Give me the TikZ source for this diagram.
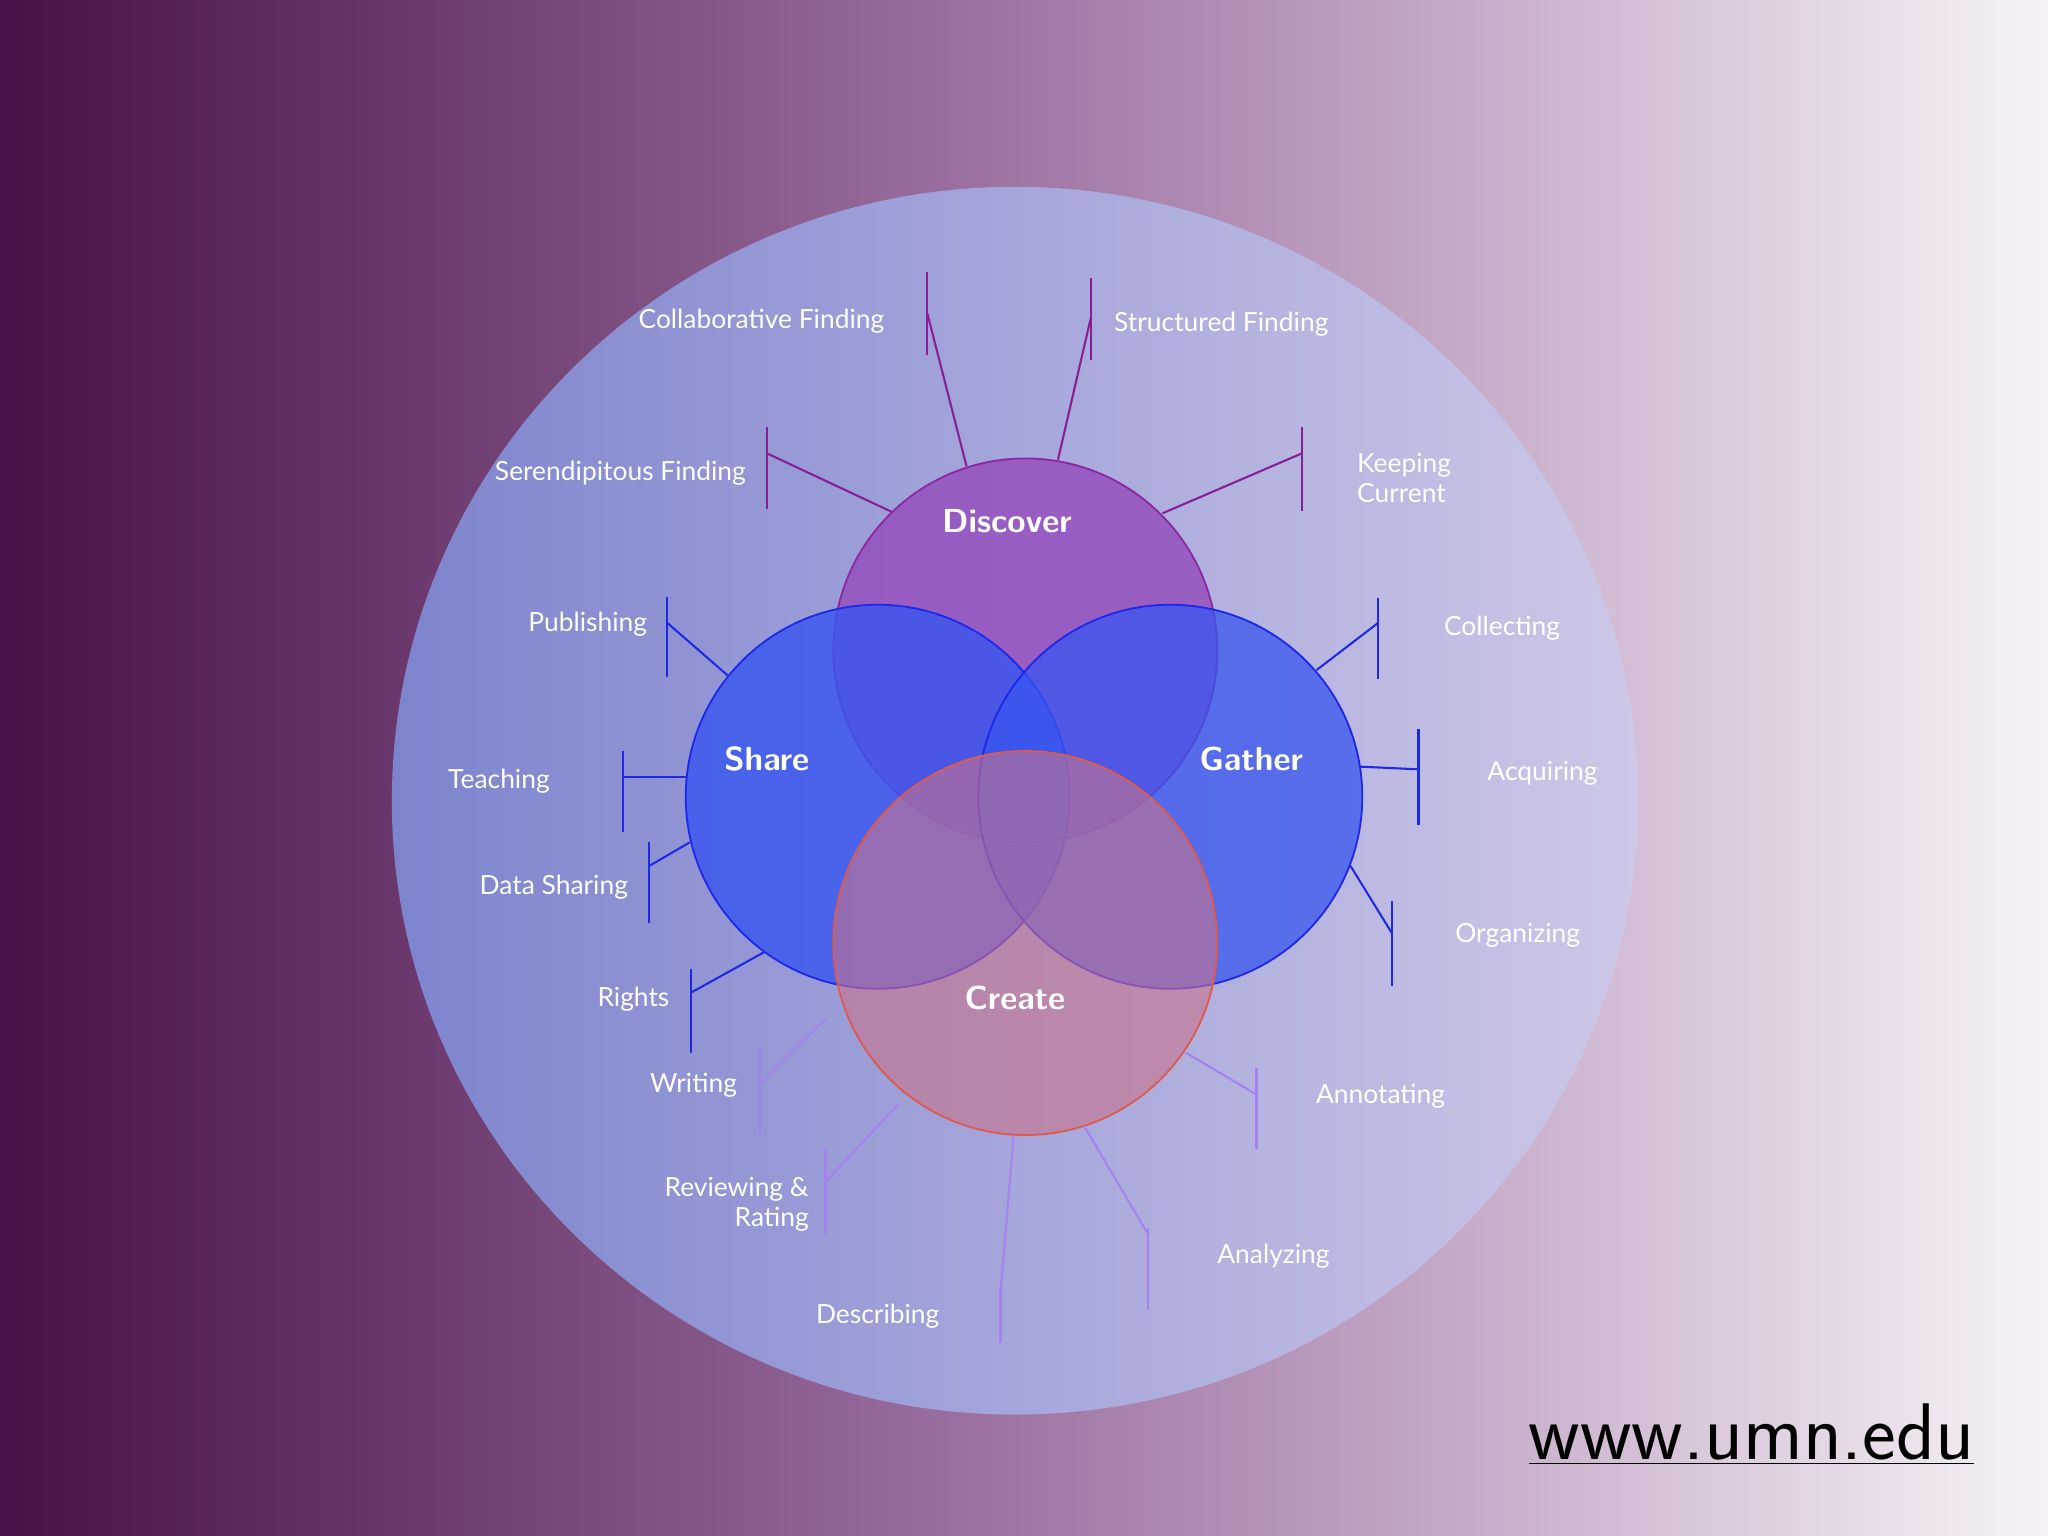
\documentclass[tikz,border=0pt]{standalone}
\usepackage{fontspec}
\setmainfont{Lato}
\usetikzlibrary{calc}
\definecolor{bgL}{RGB}{72,16,72}
\definecolor{bgM}{RGB}{160,118,165}
\definecolor{bgR}{RGB}{247,242,247}
\definecolor{ringL}{RGB}{125,132,205}
\definecolor{ringR}{RGB}{205,200,232}
\definecolor{disc}{RGB}{150,80,190}
\definecolor{discE}{RGB}{140,40,160}
\definecolor{shr}{RGB}{55,85,240}
\definecolor{shrE}{RGB}{30,40,235}
\definecolor{crt}{RGB}{200,115,140}
\definecolor{crtE}{RGB}{220,90,80}
\definecolor{lnP}{RGB}{135,30,150}
\definecolor{lnB}{RGB}{30,40,230}
\definecolor{lnV}{RGB}{165,130,240}
\begin{document}
\begin{tikzpicture}[x=0.02cm,y=-0.02cm,
  lab/.style={text=white,font=\fontsize{11.5}{13}\selectfont,align=left},
  big/.style={text=white,font=\sffamily\bfseries\fontsize{14.5}{16}\selectfont},
  venn/.style={circle,minimum size=294*0.02cm,inner sep=0,line width=0.8pt},
  cp/.style={lnP,line width=0.9pt},
  cb/.style={lnB,line width=0.9pt},
  cv/.style={lnV,line width=0.9pt}]
\shade[left color=bgL,right color=bgR,middle color=bgM] (0,0) rectangle (1568,1176);
\useasboundingbox (0,0) rectangle (1568,1176);
\shade[left color=ringL,right color=ringR,shading angle=90] (777,613) ellipse [x radius=477,y radius=470];
\node[venn,draw=discE,fill=disc,fill opacity=0.85] (D) at (785,498) {};
\node[venn,draw=shrE,fill=shr,fill opacity=0.8] (S) at (672,610) {};
\node[venn,draw=shrE,fill=shr,fill opacity=0.75] (G) at (896,610) {};
\node[venn,draw=crtE,fill=crt,fill opacity=0.6] (C) at (785,722) {};
\node[big] (tD) at (771,399) {Discover};
\node[big] (tS) at (587,581) {Share};
\node[big] (tG) at (958,581) {Gather};
\node[big] (tC) at (777,764) {Create};
% style: #1 style, start, corner, bar top, bar bottom
\newcommand{\conn}[6]{%
 \coordinate (#2a) at #3; \coordinate (#2b) at #4;
 \draw[#1] (#2a) -- (#2b);
 \draw[#1] ($(#2b)+(0,#5)$) -- ($(#2b)+(0,#6)$);}
\conn{cp}{cf}{(740,357)}{(710,240)}{-32}{32}
\conn{cp}{sf}{(810,352)}{(835,244)}{-31}{32}
\conn{cp}{se}{(683,392)}{(587,347)}{-20}{43}
\conn{cp}{kc}{(890,393)}{(997,347)}{-20}{44}
\conn{cb}{pu}{(557,517)}{(511,477)}{-20}{41}
\conn{cb}{te}{(525,595)}{(477,595)}{-20}{42}
\conn{cb}{ds}{(528,645)}{(497,663)}{-18}{44}
\conn{cb}{ri}{(585,729)}{(529,760)}{-18}{46}
\conn{cb}{co}{(1008,513)}{(1055,477)}{-19}{43}
\conn{cb}{ac}{(1042,587)}{(1086,589)}{-31}{43}
\conn{cb}{or}{(1034,663)}{(1066,715)}{-25}{40}
\conn{cv}{wr}{(632,780)}{(582,830)}{-30}{38}
\conn{cv}{rr}{(688,845)}{(632,905)}{-25}{40}
\conn{cv}{de}{(776,870)}{(766,990)}{-5}{38}
\conn{cv}{an}{(830,862)}{(879,945)}{-5}{58}
\conn{cv}{at}{(908,806)}{(962,838)}{-20}{42}
\node[lab] (l1) at (583,246) {Collaborative Finding};
\node[lab] (l2) at (935,248) {Structured Finding};
\node[lab] (l3) at (475,362) {Serendipitous Finding};
\node[lab] (l4) at (1075,366) {Keeping\\Current};
\node[lab] (l5) at (450,478) {Publishing};
\node[lab] (l6) at (382,598) {Teaching};
\node[lab] (l7) at (424,679) {Data Sharing};
\node[lab] (l8) at (485,765) {Rights};
\node[lab] (l9) at (1150,481) {Collecting};
\node[lab] (l10) at (1181,592) {Acquiring};
\node[lab] (l11) at (1162,716) {Organizing};
\node[lab] (l12) at (531,831) {Writing};
\node[lab,align=right] (l13) at (564,922) {Reviewing \&\\Rating};
\node[lab] (l14) at (672,1008) {Describing};
\node[lab] (l15) at (975,962) {Analyzing};
\node[lab] (l16) at (1057,839) {Annotating};
\node[font=\sffamily\fontsize{35}{38}\selectfont,text=black] (url) at (1341,1098) {\underline{www.umn.edu}};
\end{tikzpicture}
\end{document}
